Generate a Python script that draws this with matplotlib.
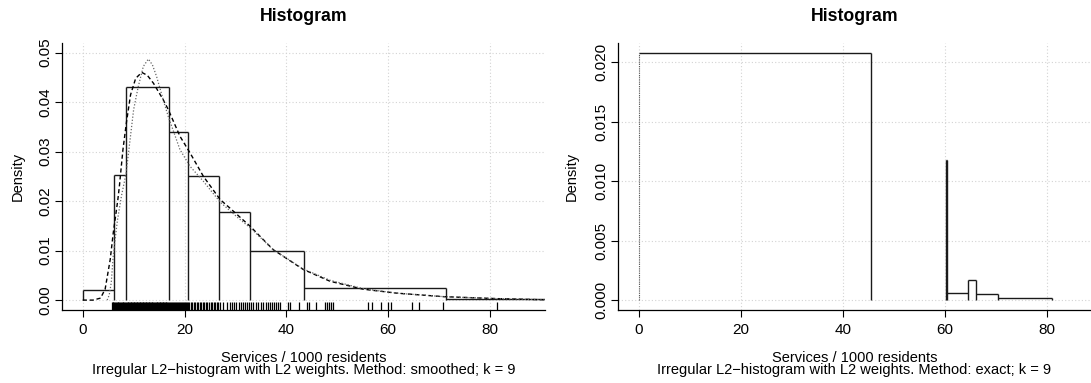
import matplotlib
matplotlib.use('Agg')
import matplotlib.pyplot as plt

plt.rcParams['font.family'] = ['Liberation Sans', 'DejaVu Sans']

# ---- left panel: smoothed method ----
left_breaks = [0, 6.21, 8.44, 16.95, 20.75, 26.8, 32.9, 43.5, 71.4, 101.7]
left_density = [0.0021, 0.0253, 0.0431, 0.0339, 0.0250, 0.0178, 0.0100, 0.00243, 0.00025]

# kernel density estimate (dashed)
kde_x = [0, 2.0, 3.5, 4.4, 5.4, 6.0, 6.9, 7.2, 7.9, 8.6, 9.4, 10.4, 11.6, 12.7, 13.9,
         15.8, 16.8, 19.1, 21.1, 23.7, 27.0, 28.9, 30.3, 32.9, 37.4, 43.3, 48.6,
         55.1, 61.7, 70.8, 81.3, 89.2, 95.0]
kde_y = [0.0, 0.0, 0.0004, 0.0022, 0.0082, 0.0136, 0.0203, 0.0230, 0.0304, 0.0360,
         0.0415, 0.0448, 0.0460, 0.0454, 0.0438, 0.0405, 0.0385, 0.0331, 0.0297,
         0.0250, 0.0203, 0.0186, 0.0173, 0.0149, 0.0102, 0.0062, 0.0038, 0.0022,
         0.0014, 0.0007, 0.0003, 0.0001, 0.0]

# fitted density (dotted)
fit_x = [4.8, 5.2, 5.6, 6.0, 6.8, 7.6, 8.5, 9.3, 10.0, 10.9, 11.9, 12.9, 13.7, 14.5,
         15.8, 16.8, 19.1, 21.1, 23.7, 27.0, 30.3, 32.9, 37.4, 43.3, 48.6, 55.1,
         61.7, 70.8, 81.3, 89.2, 95.0]
fit_y = [0.0, 0.0010, 0.0035, 0.0090, 0.0160, 0.0210, 0.0255, 0.0324, 0.0385, 0.0431,
         0.0472, 0.0487, 0.0475, 0.0452, 0.0405, 0.0371, 0.0304, 0.0270, 0.0240,
         0.0198, 0.0168, 0.0146, 0.0102, 0.0063, 0.0040, 0.0023, 0.0014, 0.0007,
         0.0003, 0.0001, 0.0]

rug_values = [5.7, 5.9, 6.0, 6.2, 6.4, 6.5, 6.7, 6.9, 7.0, 7.2, 7.4, 7.5, 7.7, 7.9,
              8.0, 8.2, 8.3, 8.5, 8.6, 8.8, 8.9, 9.1, 9.2, 9.4, 9.5, 9.7, 9.8, 10.0,
              10.1, 10.3, 10.4, 10.6, 10.7, 10.9, 11.0, 11.2, 11.3, 11.5, 11.6, 11.8,
              11.9, 12.1, 12.2, 12.4, 12.5, 12.7, 12.8, 13.0, 13.1, 13.3, 13.4, 13.6,
              13.7, 13.9, 14.0, 14.2, 14.3, 14.5, 14.6, 14.8, 14.9, 15.1, 15.2, 15.4,
              15.5, 15.7, 15.8, 16.0, 16.1, 16.3, 16.4, 16.6, 16.7, 16.9, 17.1, 17.3,
              17.5, 17.7, 17.9, 18.1, 18.3, 18.5, 18.7, 18.9, 19.1, 19.3, 19.5, 19.7,
              19.9, 20.1, 20.3, 20.5, 20.7, 20.9, 21.2, 21.5, 21.8, 22.1, 22.4, 22.7,
              23.0, 23.3, 23.6, 23.9, 24.2, 24.5, 24.8, 25.1, 25.4, 25.7, 26.0, 26.3,
              26.6, 27.0, 27.6, 28.3, 29.0, 29.4, 29.8, 30.2, 30.6, 31.0, 31.4, 31.8,
              32.2, 32.6, 33.0, 33.5, 34.0, 34.5, 35.0, 35.5, 36.0, 36.4, 36.8, 37.2,
              37.6, 38.0, 38.4, 38.8, 40.3, 40.7, 42.4, 44.0, 44.4, 45.9, 47.6, 48.0,
              48.4, 48.8, 49.2, 56.1, 56.8, 58.5, 60.0, 60.6, 64.6, 66.1, 70.7, 81.3]

# ---- right panel: exact method ----
right_breaks = [0, 45.5, 60.2, 60.35, 64.6, 66.05, 70.4, 81.0, 101.7]
right_density = [0.0208, 0.0, 0.0118, 0.00056, 0.00168, 0.0005, 0.00022, 0.0]

xticks = [0, 20, 40, 60, 80]
left_yticks = [0.00, 0.01, 0.02, 0.03, 0.04, 0.05]
right_yticks = [0.000, 0.005, 0.010, 0.015, 0.020]

W, H = 1091, 383
fig = plt.figure(figsize=(W / 100, H / 100), dpi=100)

bar_col = '#1a1a1a'


def draw_hist(ax, breaks, dens, first_dotted=False):
    # outline like R's hist(): tops plus vertical edges, no bottom line
    for i in range(len(dens)):
        if dens[i] > 0:
            ax.hlines(dens[i], breaks[i], breaks[i + 1], color=bar_col, lw=1.0)
    for i in range(len(breaks)):
        left = dens[i - 1] if i > 0 else 0
        right = dens[i] if i < len(dens) else 0
        h = max(left, right)
        if h <= 0:
            continue
        if i == 0 and first_dotted:
            ax.vlines(breaks[i], 0, h, color='#555555', lw=0.8, linestyles=(0, (1, 1)))
        else:
            ax.vlines(breaks[i], 0, h, color=bar_col, lw=1.0)


def style_axes(ax, yticks, fmt):
    for s in ['top', 'right']:
        ax.spines[s].set_visible(False)
    for s in ['left', 'bottom']:
        ax.spines[s].set_linewidth(0.9)
    ax.set_xticks(xticks)
    ax.set_yticks(yticks)
    ax.set_yticklabels([fmt % v for v in yticks])
    ax.grid(True, color='#d3d3d3', linestyle=(0, (1, 2)), linewidth=0.8)
    ax.set_axisbelow(True)
    ax.tick_params(direction='out', length=5, width=0.8, labelsize=11)
    ax.tick_params(axis='x', pad=4)
    ax.tick_params(axis='y', pad=2, labelrotation=90)
    for t in ax.get_yticklabels():
        t.set_va('center')


# left axes
ax1 = fig.add_axes([62 / W, 1 - 310 / H, (545 - 62) / W, (310 - 42.7) / H])
draw_hist(ax1, left_breaks, left_density)
ax1.plot(kde_x, kde_y, color='black', lw=1.0, linestyle=(0, (3, 2)))
ax1.plot(fit_x, fit_y, color='#666666', lw=0.9, linestyle=(0, (1, 1.5)))
ax1.vlines(rug_values, 0, 0.03, transform=ax1.get_xaxis_transform(), color='black', lw=0.9)
ax1.set_xlim(-4.07, 90.8)
ax1.set_ylim(-0.002, 0.052)
style_axes(ax1, left_yticks, '%.2f')

# right axes
ax2 = fig.add_axes([617.7 / W, 1 - 310 / H, (W - 617.7) / W, (310 - 42.7) / H])
draw_hist(ax2, right_breaks, right_density, first_dotted=True)
ax2.set_xlim(-4.18, 88.7)
ax2.set_ylim(-0.00083, 0.02163)
style_axes(ax2, right_yticks, '%.3f')

# texts
for cx, ylab_x, method in [(303.5, 18, 'smoothed'), (854.3, 571.7, 'exact')]:
    fig.text(cx / W, 1 - 20.7 / H, 'Histogram', ha='center', va='baseline',
             fontsize=12.7, fontweight='bold')
    fig.text(cx / W, 1 - 362 / H, 'Services / 1000 residents', ha='center',
             va='baseline', fontsize=10.5)
    fig.text(cx / W, 1 - 374.3 / H,
             'Irregular L2\u2212histogram with L2 weights. Method: %s; k = 9' % method,
             ha='center', va='baseline', fontsize=10.5)
    fig.text(ylab_x / W, 1 - 176.4 / H, 'Density', rotation=90, ha='center',
             va='center', fontsize=10.5)

fig.savefig('out.png', dpi=100)
